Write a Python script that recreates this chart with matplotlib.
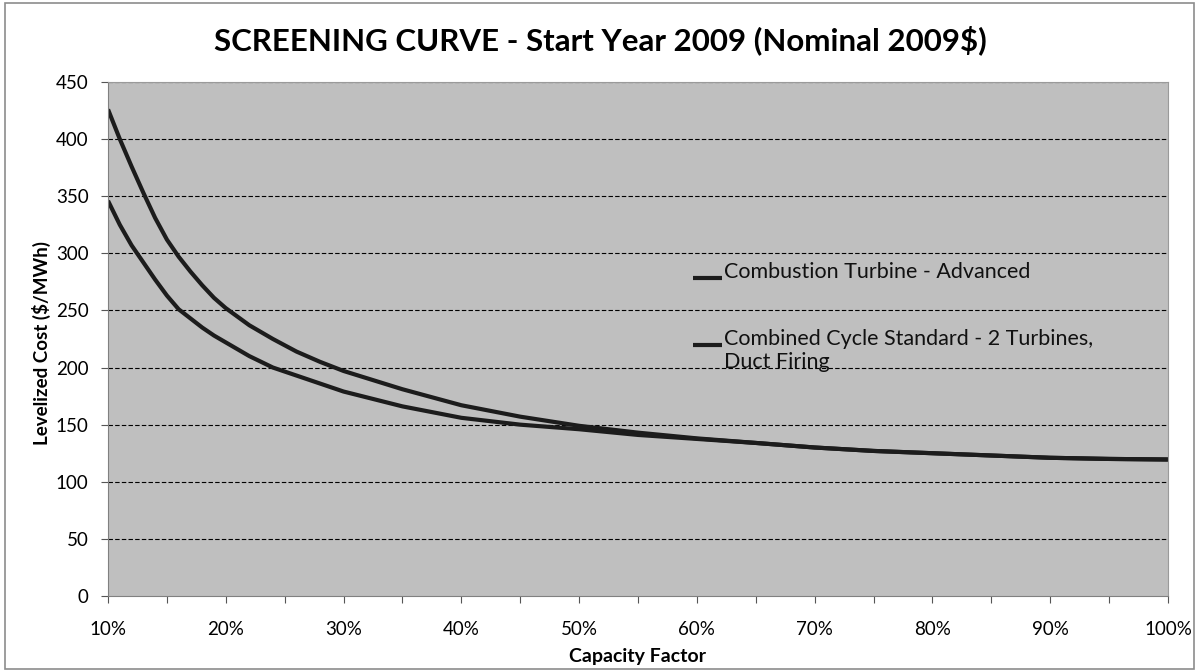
import matplotlib

matplotlib.use("Agg")
import matplotlib.pyplot as plt
from matplotlib.patches import Rectangle

plt.rcParams["font.family"] = ["Lato", "DejaVu Sans"]
plt.rcParams["hatch.color"] = "#d6d6d6"
plt.rcParams["hatch.linewidth"] = 0.4

# capacity factor (%) and levelized cost ($/MWh)
cf_ct = [10, 11, 12, 13, 14, 15, 16, 17, 18, 19, 20, 22, 24, 26, 28, 30, 35, 40, 45, 50,
         55, 60, 65, 70, 75, 80, 85, 90, 95, 100]
cost_ct = [426, 400, 376, 353, 331, 312, 297, 284, 272, 261, 252, 237, 225, 214, 205, 197,
           181, 167, 157, 149, 143, 138, 134, 130, 127, 125, 123, 121, 120, 119.5]

cf_cc = [10, 11, 12, 13, 14, 15, 16, 17, 18, 19, 20, 22, 24, 26, 28, 30, 35, 40, 45, 50,
         55, 60, 65, 70, 75, 80, 85, 90, 95, 100]
cost_cc = [346, 325, 307, 292, 277, 263, 251, 243, 235, 228, 222, 210, 200, 193, 186, 179,
           166, 156, 150, 146, 141, 137.5, 134, 130, 127, 125, 123, 121, 120, 119.5]

names = ["Combustion Turbine - Advanced", "Combined Cycle Standard - 2 Turbines,\nDuct Firing"]
title = "SCREENING CURVE - Start Year 2009 (Nominal 2009$)"
yticks = list(range(0, 451, 50))
xticks = list(range(10, 101, 10))

fig = plt.figure(figsize=(11.99, 6.72), dpi=100)
fig.patches.append(Rectangle((0.004, 0.004), 0.992, 0.992, transform=fig.transFigure,
                             fill=False, ec="#8c8c8c", lw=1.2))
ax = fig.add_axes([0.0901, 0.1131, 0.8840, 0.7649])
ax.set_facecolor("#bfbfbf")
ax.patch.set_hatch("xxxxxx")

line_kw = dict(color="#1c1c1c", lw=3.0, solid_capstyle="butt")
ax.plot(cf_ct, cost_ct, **line_kw)
ax.plot(cf_cc, cost_cc, **line_kw)

ax.set_xlim(10, 100)
ax.set_ylim(0, 450)
ax.set_yticks(yticks)
ax.set_xticks(xticks)
ax.set_xticks(list(range(15, 100, 10)), minor=True)
ax.set_xticklabels([f"{v}%" for v in xticks])
ax.tick_params(axis="both", labelsize=13.5, length=5, width=0.8, color="#555555", direction="out")
ax.tick_params(axis="x", which="minor", length=5, width=0.8, color="#555555")
ax.tick_params(axis="x", pad=13)
ax.tick_params(axis="y", pad=9)
for y in yticks[1:]:
    ax.axhline(y, color="black", lw=0.8, ls=(0, (4, 2)), zorder=1)

for side in ["top", "right"]:
    ax.spines[side].set_color("#9a9a9a")
for side in ["left", "bottom"]:
    ax.spines[side].set_color("#808080")

ax.set_xlabel("Capacity Factor", fontsize=14, fontweight="bold", labelpad=7)
ax.set_ylabel("Levelized Cost ($/MWh)", fontsize=13.5, fontweight="bold", va="center")
ax.yaxis.set_label_coords(-0.063, 0.493)
fig.text(0.501, 0.94, title, ha="center", va="center", fontsize=22.5, fontweight="bold")

# legend drawn by hand so the marker sits beside the first text line
for ypos, name in zip([0.619, 0.488], names):
    ax.plot([0.552, 0.579], [ypos, ypos], transform=ax.transAxes, **line_kw)
    ax.text(0.581, ypos + 0.031, name, transform=ax.transAxes, va="top", fontsize=15.5,
            linespacing=1.15, color="#111111")

fig.savefig("out.png", dpi=100)
